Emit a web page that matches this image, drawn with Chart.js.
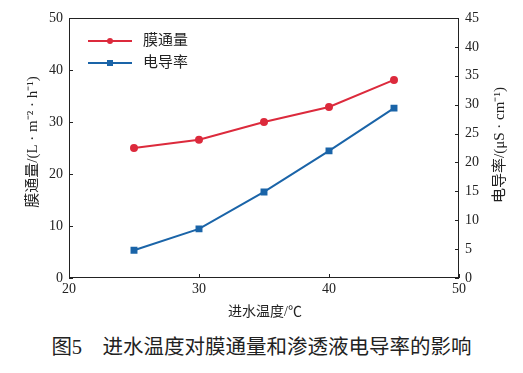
<!DOCTYPE html>
<html><head><meta charset="utf-8">
<script src="https://cdn.jsdelivr.net/npm/chart.js@4/dist/chart.umd.min.js"></script>
<style>
html,body{margin:0;padding:0;background:#fff;}
#wrap{position:relative;width:523px;height:373px;}
#c{position:absolute;left:0;top:0;}
#cap{position:absolute;left:0;width:523px;top:334px;text-align:center;font-family:"Liberation Serif","Noto Sans CJK SC",serif;font-size:20.5px;line-height:26px;color:#222;white-space:pre;}
</style></head><body>
<div id="wrap"><canvas id="c" width="523" height="330"></canvas><div id="cap">图5　进水温度对膜通量和渗透液电导率的影响</div></div>
<script>
const temps = [25, 30, 35, 40, 45];
const flux = [25.0, 26.6, 30.0, 32.9, 38.1];
const conductivity = [4.8, 8.5, 14.9, 22.0, 29.4];
const seriesNames = ['膜通量', '电导率'];
const xTitle = '进水温度/℃';
const yLeftTitle = '膜通量/(L · m⁻² · h⁻¹)';
const yRightTitle = '电导率/(μS · cm⁻¹)';

const RED = '#dc2a3c', BLUE = '#1a64a8';
const SERIF = '"Liberation Serif","DejaVu Serif",serif';
const numFont = {family: SERIF, size: 14};
const cjkFont = '"Liberation Serif","Noto Sans CJK SC",serif';

const PL = 69, PR = 459, PT = 18, PB = 278, H = 330, W = 523;

const inwardTicks = {
  id: 'inwardTicks',
  afterDraw(chart) {
    const ctx = chart.ctx, a = chart.chartArea;
    ctx.save();
    ctx.strokeStyle = '#222'; ctx.lineWidth = 1;
    ctx.strokeRect(a.left + 0.5, a.top + 0.5, a.right - a.left - 1, a.bottom - a.top - 1);
    const len = 4;
    chart.scales.x.ticks.forEach(t => {
      const px = Math.round(chart.scales.x.getPixelForValue(t.value)) + 0.5;
      ctx.beginPath(); ctx.moveTo(px, a.bottom); ctx.lineTo(px, a.bottom - len); ctx.stroke();
    });
    chart.scales.y.ticks.forEach(t => {
      const py = Math.round(chart.scales.y.getPixelForValue(t.value)) + 0.5;
      ctx.beginPath(); ctx.moveTo(a.left, py); ctx.lineTo(a.left + len, py); ctx.stroke();
    });
    chart.scales.y1.ticks.forEach(t => {
      const py = Math.round(chart.scales.y1.getPixelForValue(t.value)) + 0.5;
      ctx.beginPath(); ctx.moveTo(a.right, py); ctx.lineTo(a.right - len, py); ctx.stroke();
    });
    // axis titles
    ctx.fillStyle = '#222';
    ctx.font = '15px ' + cjkFont;
    ctx.textAlign = 'center'; ctx.textBaseline = 'middle';
    ctx.save(); ctx.translate(33, 142); ctx.rotate(-Math.PI / 2); ctx.fillText(yLeftTitle, 0, 0); ctx.restore();
    ctx.save(); ctx.translate(500, 145); ctx.rotate(-Math.PI / 2); ctx.fillText(yRightTitle, 0, 0); ctx.restore();
    ctx.font = '14px ' + cjkFont;
    ctx.fillText(xTitle, 265, 312);
    // legend
    chart.data.datasets.forEach((ds, i) => {
      const y = 41 + i * 22;
      ctx.strokeStyle = ds.borderColor; ctx.lineWidth = 2;
      ctx.beginPath(); ctx.moveTo(88, y); ctx.lineTo(132, y); ctx.stroke();
      ctx.fillStyle = ds.borderColor;
      if (ds.pointStyle === 'rect') ctx.fillRect(107, y - 3, 6, 6);
      else { ctx.beginPath(); ctx.arc(110, y, 3, 0, Math.PI * 2); ctx.fill(); }
      ctx.fillStyle = '#222';
      ctx.font = '15px ' + cjkFont;
      ctx.textBaseline = 'middle'; ctx.textAlign = 'left';
      ctx.fillText(ds.label, 143, y);
    });
    ctx.restore();
  }
};

new Chart(document.getElementById('c'), {
  type: 'line',
  data: {
    datasets: [
      {label: seriesNames[0], data: temps.map((t, i) => ({x: t, y: flux[i]})), yAxisID: 'y',
       borderColor: RED, backgroundColor: RED, borderWidth: 2, pointStyle: 'circle', pointRadius: 3, tension: 0},
      {label: seriesNames[1], data: temps.map((t, i) => ({x: t, y: conductivity[i]})), yAxisID: 'y1',
       borderColor: BLUE, backgroundColor: BLUE, borderWidth: 2, pointStyle: 'rect', pointRadius: 3.5, tension: 0}
    ]
  },
  options: {
    responsive: false, animation: false,
    layout: {padding: {top: PT, left: 0, right: 0, bottom: 0}},
    plugins: {legend: {display: false}, tooltip: {enabled: false}},
    scales: {
      x: {type: 'linear', min: 20, max: 50, position: 'bottom',
          ticks: {stepSize: 10, color: '#222', font: numFont, padding: 3},
          grid: {display: false, drawTicks: false}, border: {display: false},
          afterFit(s) { s.height = H - PB; }},
      y: {type: 'linear', min: 0, max: 50, position: 'left',
          ticks: {stepSize: 10, color: '#222', font: numFont, padding: 6},
          grid: {display: false, drawTicks: false}, border: {display: false},
          afterFit(s) { s.width = PL; }},
      y1: {type: 'linear', min: 0, max: 45, position: 'right',
          ticks: {stepSize: 5, color: '#222', font: numFont, padding: 6},
          grid: {display: false, drawTicks: false}, border: {display: false},
          afterFit(s) { s.width = W - PR; }}
    }
  },
  plugins: [inwardTicks]
});
</script>
</body></html>
